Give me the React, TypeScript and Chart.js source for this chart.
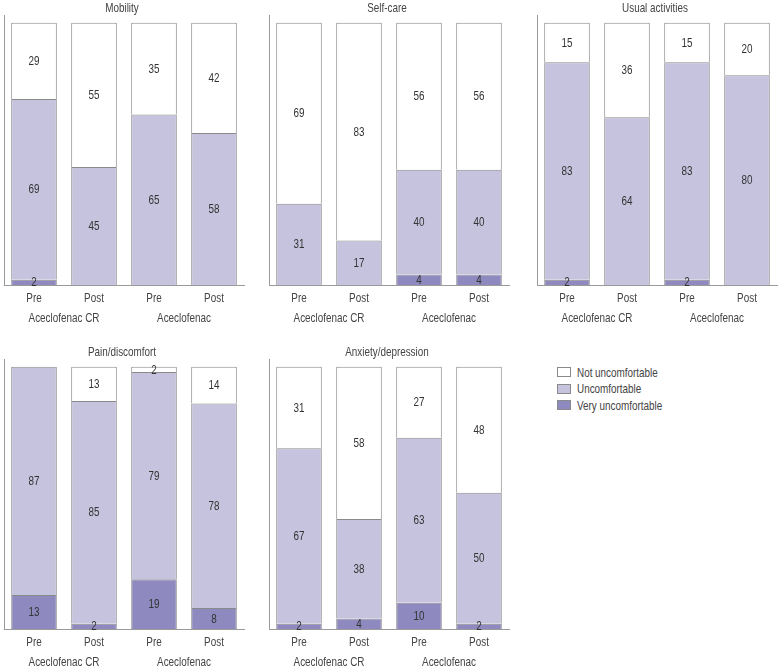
import React, { useEffect, useRef } from "react";
import { Chart, registerables } from "chart.js";
Chart.register(...registerables);

// ---- data ----
const timeLabels = ["Pre", "Post", "Pre", "Post"];
const groupLabels = ["Aceclofenac CR", "Aceclofenac"];
const seriesNames = ["Very uncomfortable", "Uncomfortable", "Not uncomfortable"];

const mobilityVery = [2, 0, 0, 0];
const mobilityUnc = [69, 45, 65, 58];
const mobilityNot = [29, 55, 35, 42];

const selfCareVery = [0, 0, 4, 4];
const selfCareUnc = [31, 17, 40, 40];
const selfCareNot = [69, 83, 56, 56];

const usualVery = [2, 0, 2, 0];
const usualUnc = [83, 64, 83, 80];
const usualNot = [15, 36, 15, 20];

const painVery = [13, 2, 19, 8];
const painUnc = [87, 85, 79, 78];
const painNot = [0, 13, 2, 14];

const anxietyVery = [2, 4, 10, 2];
const anxietyUnc = [67, 38, 63, 50];
const anxietyNot = [31, 58, 27, 48];

// ---- styles ----
const FONT = "'Liberation Sans', Arial, sans-serif";
const FONT_SIZE = 13;
const SX = 0.76; // horizontal condensing of text
const TEXT = "#444444";
const COLORS = ["#8e89bf", "#c6c3de", "#ffffff"];
const BORDER = "#8a8a8a";
const AXIS = "#9a9a9a";

const CW = 246;
const CH = 330;

const panels = [
  { title: "Mobility", very: mobilityVery, unc: mobilityUnc, not: mobilityNot, left: 0, top: 0 },
  { title: "Self-care", very: selfCareVery, unc: selfCareUnc, not: selfCareNot, left: 265, top: 0 },
  { title: "Usual activities", very: usualVery, unc: usualUnc, not: usualNot, left: 533, top: 0 },
  { title: "Pain/discomfort", very: painVery, unc: painUnc, not: painNot, left: 0, top: 344 },
  { title: "Anxiety/depression", very: anxietyVery, unc: anxietyUnc, not: anxietyNot, left: 265, top: 344 },
];

function condText(ctx: CanvasRenderingContext2D, text: string, x: number, y: number) {
  ctx.save();
  ctx.translate(x, y);
  ctx.scale(SX, 1);
  ctx.fillText(text, 0, 0);
  ctx.restore();
}

const valueLabelPlugin = {
  id: "valueLabels",
  afterDatasetsDraw(chart: any) {
    const ctx = chart.ctx;
    ctx.save();
    ctx.font = `${FONT_SIZE}px ${FONT}`;
    ctx.fillStyle = "#333333";
    ctx.textAlign = "center";
    ctx.textBaseline = "middle";
    chart.data.datasets.forEach((ds: any, i: number) => {
      const meta = chart.getDatasetMeta(i);
      meta.data.forEach((el: any, j: number) => {
        const v = ds.data[j];
        if (!v) return;
        condText(ctx, String(v), el.x, (el.y + el.base) / 2 + 0.5);
      });
    });
    ctx.restore();
  },
};

const axisTextPlugin = {
  id: "axisText",
  afterDraw(chart: any, _args: any, opts: any) {
    const ctx = chart.ctx;
    const xs = chart.scales.x;
    const area = chart.chartArea;
    ctx.save();
    ctx.font = `${FONT_SIZE}px ${FONT}`;
    ctx.fillStyle = TEXT;
    ctx.textAlign = "center";
    ctx.textBaseline = "middle";
    // tick labels
    chart.data.labels.forEach((lab: string, i: number) => {
      condText(ctx, lab, xs.getPixelForValue(i), area.bottom + 13.5);
    });
    // group labels
    groupLabels.forEach((g, k) => {
      const x = (xs.getPixelForValue(2 * k) + xs.getPixelForValue(2 * k + 1)) / 2;
      condText(ctx, g, x, area.bottom + 33.5);
    });
    // title
    condText(ctx, opts.title, (area.left + area.right) / 2 - 2, area.top - 7);
    ctx.restore();
  },
};

function Panel({ p }: { p: any }) {
  const ref = useRef<HTMLCanvasElement>(null);
  useEffect(() => {
    const chart = new Chart(ref.current!, {
      type: "bar",
      data: {
        labels: timeLabels,
        datasets: [p.very, p.unc, p.not].map((d: number[], i: number) => ({
          label: seriesNames[i],
          data: d,
          backgroundColor: COLORS[i],
          borderColor: BORDER,
          borderWidth: 1,
          barPercentage: 0.76,
          categoryPercentage: 1,
        })),
      },
      options: {
        responsive: false,
        animation: false,
        layout: { padding: { top: 15, left: 4, right: 2, bottom: 45 } },
        plugins: {
          legend: { display: false },
          tooltip: { enabled: false },
          title: { display: false },
          axisText: { title: p.title },
        },
        scales: {
          x: {
            stacked: true,
            grid: { display: false, drawTicks: false },
            border: { display: true, color: AXIS },
            ticks: { display: false },
          },
          y: {
            stacked: true,
            min: 0,
            max: 103,
            grid: { display: false, drawTicks: false },
            border: { display: true, color: AXIS },
            ticks: { display: false },
          },
        },
      } as any,
      plugins: [valueLabelPlugin, axisTextPlugin],
    });
    return () => chart.destroy();
  }, []);
  return (
    <canvas
      ref={ref}
      width={CW}
      height={CH}
      style={{ position: "absolute", left: p.left, top: p.top, width: CW, height: CH, display: "block" }}
    />
  );
}

const legendOrder = [2, 1, 0];

export default function App() {
  return (
    <div style={{ position: "absolute", left: 0, top: 0, width: 779, height: 672, background: "#fff", overflow: "hidden" }}>
      {panels.map((p, i) => (
        <Panel key={i} p={p} />
      ))}
      <div style={{ position: "absolute", left: 557, top: 364, fontFamily: FONT, fontSize: FONT_SIZE, color: TEXT }}>
        {legendOrder.map((i) => (
          <div key={i} style={{ display: "flex", alignItems: "center", height: 16.5 }}>
            <span
              style={{
                display: "inline-block",
                flex: "none",
                width: 12,
                height: 8,
                background: COLORS[i],
                border: `1px solid ${BORDER}`,
                marginRight: 6,
              }}
            />
            <span style={{ display: "inline-block", transform: `scaleX(${SX})`, transformOrigin: "left center", whiteSpace: "nowrap" }}>
              {seriesNames[i]}
            </span>
          </div>
        ))}
      </div>
    </div>
  );
}
